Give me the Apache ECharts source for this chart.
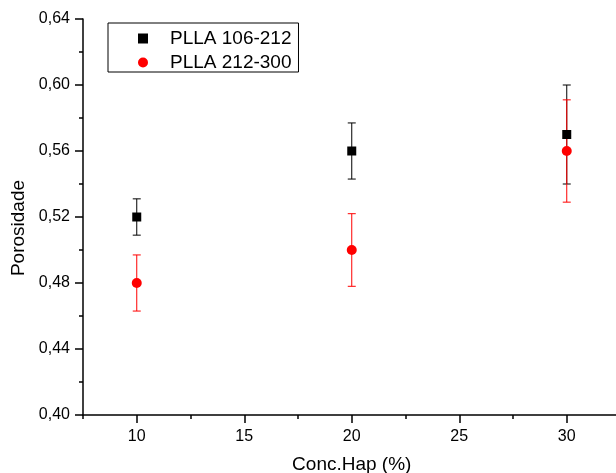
<!DOCTYPE html>
<html>
<head>
<meta charset="utf-8">
<script src="https://cdn.jsdelivr.net/npm/echarts@6/dist/echarts.min.js"></script>
<style>html,body{margin:0;padding:0;background:#fff}#c{width:616px;height:473px}</style>
</head>
<body>
<div id="c"></div>
<script>
var conc = [10, 20, 30];
var seriesNames = ['PLLA 106-212', 'PLLA 212-300'];
var porA = [0.52, 0.56, 0.57];
var errA = [0.011, 0.017, 0.030];
var porB = [0.48, 0.50, 0.56];
var errB = [0.017, 0.022, 0.031];
var xMajorTicks = [10, 15, 20, 25, 30];

var FONT = 'Liberation Sans';
function pts(v) { return conc.map(function (x, i) { return [x, v[i]]; }); }
function errs(v, e) { return conc.map(function (x, i) { return [x, v[i] - e[i], v[i] + e[i]]; }); }
function errRender(color) {
  return function (params, api) {
    var x = api.value(0);
    var lo = api.coord([x, api.value(1)]);
    var hi = api.coord([x, api.value(2)]);
    var hw = 4;
    var st = { stroke: color, lineWidth: 1 };
    return { type: 'group', children: [
      { type: 'line', shape: { x1: lo[0], y1: lo[1], x2: hi[0], y2: hi[1] }, style: st },
      { type: 'line', shape: { x1: lo[0] - hw, y1: lo[1], x2: lo[0] + hw, y2: lo[1] }, style: st },
      { type: 'line', shape: { x1: hi[0] - hw, y1: hi[1], x2: hi[0] + hw, y2: hi[1] }, style: st }
    ]};
  };
}
var chart = echarts.init(document.getElementById('c'), null, { renderer: 'canvas' });
chart.setOption({
  animation: false,
  backgroundColor: '#fff',
  textStyle: { fontFamily: FONT },
  grid: { left: 83, top: 19, bottom: 58, right: -4.5, containLabel: false, outerBoundsMode: 'none' },
  legend: {
    orient: 'vertical', left: 108, top: 23,
    data: [{ name: seriesNames[0], icon: 'rect', itemStyle: { color: '#000', opacity: 1 } }, { name: seriesNames[1], icon: 'circle', itemStyle: { color: '#ff0000', opacity: 1 } }],
    itemWidth: 10, itemHeight: 10, itemGap: 5,
    borderColor: '#000', borderWidth: 1, borderRadius: 0,
    padding: [6, 7, 0, 30],
    textStyle: { fontFamily: FONT, fontSize: 19, color: '#000', lineHeight: 19, padding: [0, 0, 0, 17] }
  },
  xAxis: [{
    type: 'value', min: 7.5, max: 32.5, interval: 2.5,
    name: 'Conc.Hap (%)', nameLocation: 'middle', nameGap: 40,
    nameTextStyle: { fontFamily: FONT, fontSize: 19, color: '#000' },
    axisLine: { show: true, lineStyle: { color: '#000', width: 1.5 } },
    axisTick: { show: true, inside: false, length: 4, lineStyle: { color: '#000', width: 1.5 } },
    axisLabel: { show: true, customValues: xMajorTicks, margin: 14, fontFamily: FONT, fontSize: 16, color: '#000' },
    splitLine: { show: false }
  }, {
    type: 'value', min: 7.5, max: 32.5, position: 'bottom', gridIndex: 0,
    axisLine: { show: false },
    axisTick: { show: true, inside: false, length: 8, customValues: xMajorTicks, lineStyle: { color: '#000', width: 1.5 } },
    axisLabel: { show: false },
    splitLine: { show: false }
  }],
  yAxis: {
    type: 'value', min: 0.40, max: 0.64, interval: 0.04,
    name: 'Porosidade', nameLocation: 'middle', nameGap: 55, nameRotate: 90,
    nameTextStyle: { fontFamily: FONT, fontSize: 19, color: '#000', padding: [0, 22, 0, 0] },
    axisLine: { show: true, lineStyle: { color: '#000', width: 1.5 } },
    axisTick: { show: true, inside: false, length: 8, lineStyle: { color: '#000', width: 1.5 } },
    minorTick: { show: true, splitNumber: 2, length: 4, lineStyle: { color: '#000', width: 1.5 } },
    axisLabel: { margin: 13, fontFamily: FONT, fontSize: 16, color: '#000',
      formatter: function (v) { return v.toFixed(2).replace('.', ','); } },
    splitLine: { show: false }
  },
  series: [
    { type: 'custom', name: 'errA', data: errs(porA, errA), renderItem: errRender('#000'), z: 1, encode: { x: 0, y: [1, 2] }, silent: true },
    { type: 'custom', name: 'errB', data: errs(porB, errB), renderItem: errRender('#ff0000'), z: 2, encode: { x: 0, y: [1, 2] }, silent: true },
    { type: 'scatter', name: seriesNames[0], data: pts(porA), symbol: 'rect', symbolSize: 9, itemStyle: { color: '#000', opacity: 1 }, z: 3 },
    { type: 'scatter', name: seriesNames[1], data: pts(porB), symbol: 'circle', symbolSize: 10, itemStyle: { color: '#ff0000', opacity: 1 }, z: 4 }
  ]
});
</script>
</body>
</html>
